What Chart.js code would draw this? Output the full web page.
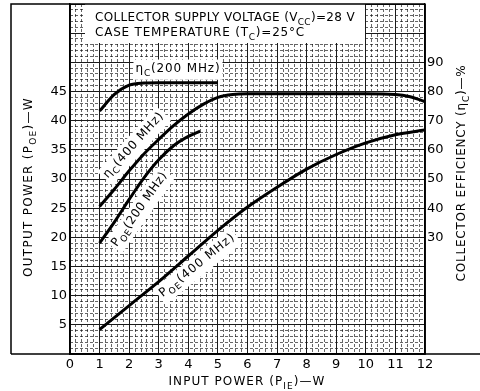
<!DOCTYPE html>
<html lang="en">
<head>
<meta charset="UTF-8">
<title>Output power and collector efficiency vs input power</title>
<script src="https://cdn.jsdelivr.net/npm/chart.js@4"></script>
<style>
  html, body { margin: 0; padding: 0; background: #fff; }
  #chart { display: block; }
</style>
</head>
<body>
<canvas id="chart" width="480" height="391"></canvas>
<script>
// input power (W) and collector efficiency (%), 200 MHz
const pinEff200 = [1, 1.5, 2, 2.5, 3, 4, 5];
const eff200 = [73.3, 79, 82.2, 82.9, 83, 83, 83];
// input power (W) and collector efficiency (%), 400 MHz
const pinEff400 = [1, 1.5, 2, 2.5, 3, 3.5, 4, 4.5, 5, 5.5, 6, 8, 10, 11, 11.5, 12];
const eff400 = [40.6, 46.5, 52.8, 58.6, 63.6, 68.3, 72.3, 75.6, 78, 79, 79.2, 79.2, 79.2, 79, 78.2, 76.5];
// input power (W) and output power (W), 200 MHz
const pinOut200 = [1, 1.5, 2, 2.5, 3, 3.5, 4, 4.4];
const pout200 = [19, 22.6, 26.5, 30.2, 33.3, 35.7, 37.3, 38.2];
// input power (W) and output power (W), 400 MHz
const pinOut400 = [1, 2, 3, 4, 5, 6, 7, 8, 9, 10, 11, 12];
const pout400 = [4.2, 8.3, 12.4, 16.8, 21.2, 25.2, 28.6, 31.7, 34.2, 36.2, 37.6, 38.4];

// tick labels that are printed
const xTickLabels = [0, 1, 2, 3, 4, 5, 6, 7, 8, 9, 10, 11, 12];
const outTickLabels = [5, 10, 15, 20, 25, 30, 35, 40, 45];
const effTickLabels = [30, 40, 50, 60, 70, 80, 90];

const FONT = "'DejaVu Sans', sans-serif";

function pts(xs, ys) {
  return xs.map((x, i) => ({ x: x, y: ys[i] }));
}

function isIn(list, v) {
  return list.some(t => Math.abs(t - v) < 1e-6);
}

// text made of parts: [text, isSubscript]
function drawRich(ctx, parts, size, x, y, angle, width, align, pad) {
  ctx.save();
  ctx.translate(x, y);
  ctx.rotate(angle);
  ctx.letterSpacing = '0px';
  let natural = 0, n = 0;
  const widths = parts.map(p => {
    ctx.font = (p[1] ? size * 0.75 : size) + 'px ' + FONT;
    const w = ctx.measureText(p[0]).width;
    natural += w;
    n += p[0].length;
    return w;
  });
  const ls = width ? (width - natural) / n : 0;
  const total = natural + ls * n;
  let cx = align === 'left' ? 0 : -total / 2;
  if (pad) {
    ctx.fillStyle = '#fff';
    ctx.fillRect(cx - pad, -size * 0.6 - pad, total + 2 * pad, size * 1.35 + 2 * pad);
  }
  ctx.fillStyle = '#000';
  ctx.textBaseline = 'middle';
  ctx.textAlign = 'left';
  ctx.letterSpacing = ls + 'px';
  parts.forEach((p, i) => {
    ctx.font = (p[1] ? size * 0.75 : size) + 'px ' + FONT;
    ctx.fillText(p[0], cx, p[1] ? size * 0.38 : 0);
    cx += widths[i] + ls * p[0].length;
  });
  ctx.restore();
}

const deg = Math.PI / 180;

// curve labels, anchored in data units (input power, output power)
const curveLabels = [
  { parts: [['η'], ['C', 1], ['(200 MHz)']], x: 3.65, y: 48.9, angle: 0, width: 85 },
  { parts: [['η'], ['C', 1], ['(400 MHz)']], x: 2.15, y: 35.8, angle: -48 * deg, width: 84 },
  { parts: [['P'], ['OE', 1], ['(200 MHz)']], x: 2.35, y: 24.8, angle: -55 * deg, width: 88 },
  { parts: [['P'], ['OE', 1], ['(400 MHz)']], x: 4.3, y: 15.2, angle: -39 * deg, width: 94 }
];

const annotate = {
  id: 'annotate',
  beforeDatasetsDraw(chart) {
    const ctx = chart.ctx;
    const sx = chart.scales.x, sy = chart.scales.y;
    // header box
    ctx.save();
    ctx.fillStyle = '#fff';
    ctx.fillRect(85, chart.chartArea.top, 280, 43 - chart.chartArea.top);
    ctx.restore();
    drawRich(ctx, [['COLLECTOR SUPPLY VOLTAGE (V'], ['CC', 1], [')=28 V']], 12, 95, 18, 0, 260, 'left');
    drawRich(ctx, [['CASE TEMPERATURE (T'], ['C', 1], [')=25°C']], 12, 95, 33, 0, 210, 'left');
    curveLabels.forEach(l => {
      drawRich(ctx, l.parts, 12, sx.getPixelForValue(l.x), sy.getPixelForValue(l.y), l.angle, l.width, 'center', 2);
    });
  },
  afterDraw(chart) {
    const ctx = chart.ctx;
    const a = chart.chartArea;
    ctx.save();
    ctx.strokeStyle = '#000';
    ctx.lineWidth = 1.5;
    ctx.beginPath();
    ctx.moveTo(11, a.bottom);
    ctx.lineTo(11, a.top);
    ctx.lineTo(a.right, a.top);
    ctx.moveTo(11, a.bottom);
    ctx.lineTo(480, a.bottom);
    ctx.stroke();
    ctx.restore();
    drawRich(ctx, [['OUTPUT POWER (P'], ['OE', 1], [')—W']], 12, 29, 187, -90 * deg, 180, 'center');
    drawRich(ctx, [['COLLECTOR EFFICIENCY (η'], ['C', 1], [')—%']], 12, 462, 173, -90 * deg, 217, 'center');
    drawRich(ctx, [['INPUT POWER (P'], ['IE', 1], [')—W']], 12, 247, 382, 0, 157, 'center');
  }
};

const curve = {
  borderColor: '#000',
  borderWidth: 3,
  pointRadius: 0,
  fill: false,
  cubicInterpolationMode: 'monotone',
  xAxisID: 'x'
};

new Chart(document.getElementById('chart'), {
  type: 'line',
  data: {
    datasets: [
      Object.assign({ label: 'ηC (200 MHz)', data: pts(pinEff200, eff200), yAxisID: 'y2' }, curve),
      Object.assign({ label: 'ηC (400 MHz)', data: pts(pinEff400, eff400), yAxisID: 'y2' }, curve),
      Object.assign({ label: 'POE (200 MHz)', data: pts(pinOut200, pout200), yAxisID: 'y' }, curve),
      Object.assign({ label: 'POE (400 MHz)', data: pts(pinOut400, pout400), yAxisID: 'y' }, curve)
    ]
  },
  options: {
    responsive: false,
    animation: false,
    devicePixelRatio: 1,
    font: { family: FONT },
    layout: { padding: { top: 4, left: 0, right: 0, bottom: 0 } },
    plugins: { legend: { display: false }, tooltip: { enabled: false } },
    scales: {
      x: {
        type: 'linear', position: 'bottom', min: 0, max: 12,
        ticks: {
          stepSize: 1, autoSkip: false, padding: 3, color: '#000',
          font: { family: FONT, size: 13 },
          callback: v => isIn(xTickLabels, v) ? String(Math.round(v)) : ''
        },
        grid: { color: '#1a1a1a', lineWidth: 1, drawTicks: false },
        border: { color: '#000', width: 1.5 },
        afterFit: s => { s.height = 37; s.paddingLeft = 0; s.paddingRight = 0; }
      },
      xMinor: {
        type: 'linear', position: 'bottom', min: 0, max: 12,
        ticks: { display: false, stepSize: 0.2, autoSkip: false },
        grid: { color: 'rgba(0,0,0,0.6)', lineWidth: 1, drawTicks: false, z: -2 },
        border: { display: false, dash: [3, 2] },
        afterFit: s => { s.height = 0; s.paddingLeft = 0; s.paddingRight = 0; }
      },
      y: {
        type: 'linear', position: 'left', min: 0, max: 60,
        ticks: {
          stepSize: 5, autoSkip: false, padding: 3, color: '#000',
          font: { family: FONT, size: 13 },
          callback: v => isIn(outTickLabels, v) ? String(v) : ''
        },
        grid: { color: '#1a1a1a', lineWidth: 1, drawTicks: false },
        border: { color: '#000', width: 1.5 },
        afterFit: s => { s.width = 70; s.paddingTop = 0; s.paddingBottom = 0; }
      },
      yMinor: {
        type: 'linear', position: 'left', min: 0, max: 60,
        ticks: { display: false, stepSize: 1, autoSkip: false },
        grid: { color: 'rgba(0,0,0,0.6)', lineWidth: 1, drawTicks: false, z: -2 },
        border: { display: false, dash: [3, 2] },
        afterFit: s => { s.width = 0; s.paddingTop = 0; s.paddingBottom = 0; }
      },
      y2: {
        type: 'linear', position: 'right', min: -10, max: 110,
        ticks: {
          stepSize: 10, autoSkip: false, padding: 2, color: '#000',
          font: { family: FONT, size: 13 },
          callback: v => isIn(effTickLabels, v) ? String(v) : ''
        },
        grid: { drawOnChartArea: false, drawTicks: false },
        border: { color: '#000', width: 1.5 },
        afterFit: s => { s.width = 55; s.paddingTop = 0; s.paddingBottom = 0; }
      }
    }
  },
  plugins: [annotate]
});
</script>
</body>
</html>
